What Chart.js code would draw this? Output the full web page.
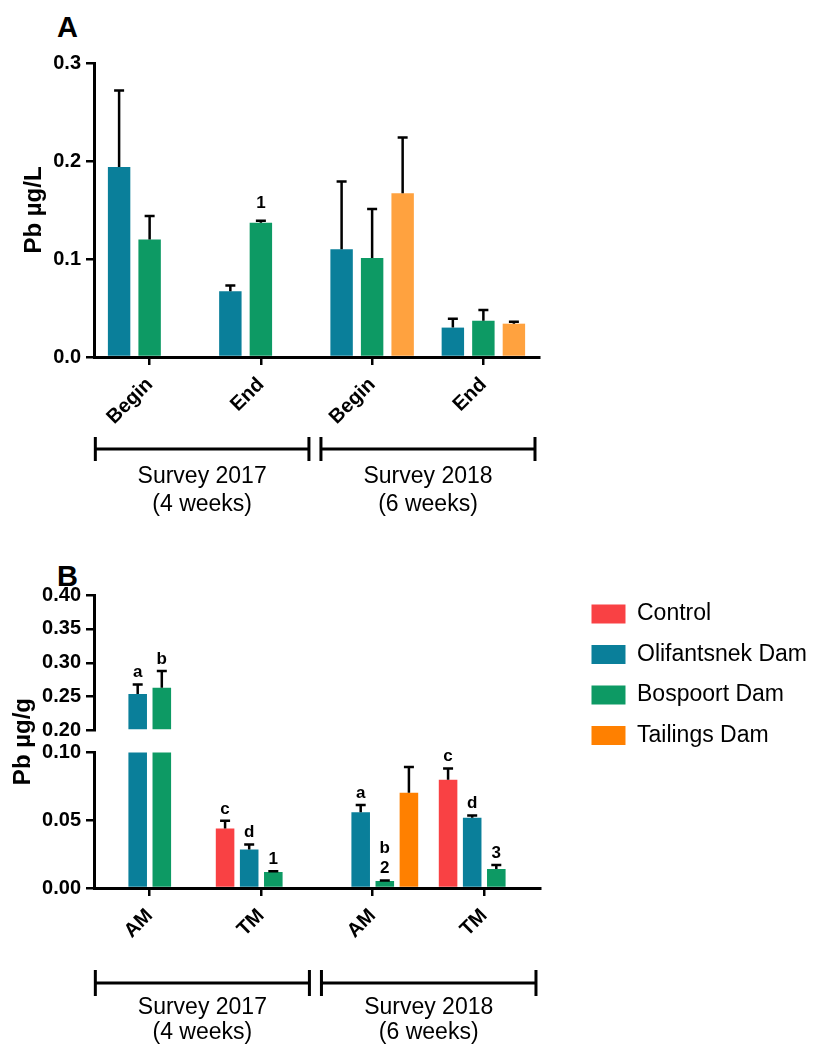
<!DOCTYPE html>
<html>
<head>
<meta charset="utf-8">
<script src="https://cdn.jsdelivr.net/npm/chart.js@4.4.1/dist/chart.umd.min.js"></script>
<style>
  body { margin: 0; background: #fff; width: 818px; height: 1050px; position: relative; overflow: hidden; }
  canvas { position: absolute; left: 0; }
  #chartA { top: 0; }
  #chartB { top: 578px; }
  .panel-label { position: absolute; left: 57px; font: bold 29px "Liberation Sans", Arial, sans-serif; line-height: 29px; }
</style>
</head>
<body>
<div class="panel-label" style="top:13px">A</div>
<div class="panel-label" style="top:562px">B</div>
<canvas id="chartA" width="818" height="540"></canvas>
<canvas id="chartB" width="818" height="472"></canvas>
<script>
// Panel A - water (Pb µg/L)
const categoriesA = ['Begin', 'End', 'Begin', 'End'];
const olifA = [0.194, 0.067, 0.110, 0.030];
const olifAErr = [0.078, 0.006, 0.069, 0.009];
const bosA = [0.120, 0.137, 0.101, 0.037];
const bosAErr = [0.024, 0.002, 0.050, 0.011];
const bosAMarks = [null, '1', null, null];
const tailA = [null, null, 0.167, 0.034];
const tailAErr = [null, null, 0.057, 0.002];
const ticksA = [0, 0.1, 0.2, 0.3];

// Panel B - tissue (Pb µg/g)
const categoriesB = ['AM', 'TM', 'AM', 'TM'];
const ctrlB = [null, 0.044, null, 0.080];
const ctrlBErr = [null, 0.0057, null, 0.0083];
const ctrlBMarks = [null, 'c', null, 'c'];
const olifB = [0.254, 0.0285, 0.056, 0.0518];
const olifBErr = [0.014, 0.0037, 0.0052, 0.0018];
const olifBMarks = ['a', 'd', 'a', 'd'];
const bosB = [0.263, 0.0118, 0.0052, 0.014];
const bosBErr = [0.025, 0.0005, 0.0004, 0.003];
const bosBMarks = ['b', '1', 'b\n2', '3'];
const tailB = [null, null, 0.0703, null];
const tailBErr = [null, null, 0.0191, null];
const tailBMarks = [null, null, null, null];
const ticksBLow = [0, 0.05, 0.10];
const ticksBHigh = [0.20, 0.25, 0.30, 0.35, 0.40];

const surveys = [['Survey 2017', '(4 weeks)'], ['Survey 2018', '(6 weeks)']];

const BREAK_TOP = 0.2;
const FONT = '"Liberation Sans", Arial, sans-serif';
const COLORS = {
  control: '#F94144',
  olif: '#0A7F9A',
  bos: '#0D9A64',
  tailA: '#FFA23F',
  tailB: '#FF8000'
};

Chart.defaults.font.family = FONT;
Chart.defaults.color = '#000';

// error bars (upper only) and significance letters
const errorBars = {
  id: 'errorBars',
  afterDatasetsDraw(chart, args, opts) {
    const ctx = chart.ctx;
    chart.data.datasets.forEach((ds, di) => {
      if (!ds.errors) return;
      const meta = chart.getDatasetMeta(di);
      const yScale = chart.scales[meta.yAxisID];
      ds.data.forEach((v, i) => {
        if (v == null || v > yScale.max || ds.errors[i] == null) return;
        const bar = meta.data[i];
        const base = yScale.getPixelForValue(v);
        const top = yScale.getPixelForValue(v + ds.errors[i]);
        ctx.save();
        ctx.strokeStyle = '#000';
        ctx.lineWidth = 2.5;
        ctx.beginPath();
        ctx.moveTo(bar.x, base);
        ctx.lineTo(bar.x, top);
        ctx.moveTo(bar.x - 5, top);
        ctx.lineTo(bar.x + 5, top);
        ctx.stroke();
        if (ds.marks && ds.marks[i]) {
          ctx.fillStyle = '#000';
          ctx.font = 'bold 17px ' + FONT;
          ctx.textAlign = 'center';
          ctx.textBaseline = 'alphabetic';
          ds.marks[i].split('\n').reverse().forEach((t, k) => {
            ctx.fillText(t, bar.x, top - opts.markGap - k * 20);
          });
        }
        ctx.restore();
      });
    });
  }
};

// the "Survey" brackets under the x axis
const surveyBrackets = {
  id: 'surveyBrackets',
  afterDraw(chart, args, opts) {
    const ctx = chart.ctx;
    const ca = chart.chartArea;
    const w = ca.right - ca.left;
    const y = ca.bottom + opts.lineOffset;
    const spans = [[0.003, 0.483], [0.51, 0.991]];
    ctx.save();
    ctx.strokeStyle = '#000';
    ctx.lineWidth = 3;
    ctx.fillStyle = '#000';
    ctx.font = '23px ' + FONT;
    ctx.textAlign = 'center';
    ctx.textBaseline = 'middle';
    spans.forEach(([a, b], k) => {
      const x1 = ca.left + a * w;
      const x2 = ca.left + b * w;
      ctx.beginPath();
      ctx.moveTo(x1, y);
      ctx.lineTo(x2, y);
      ctx.moveTo(x1, y - opts.tick);
      ctx.lineTo(x1, y + opts.tick);
      ctx.moveTo(x2, y - opts.tick);
      ctx.lineTo(x2, y + opts.tick);
      ctx.stroke();
      surveys[k].forEach((t, j) => {
        ctx.fillText(t, (x1 + x2) / 2, ca.bottom + opts.textOffsets[j]);
      });
    });
    ctx.restore();
  }
};

function valueAxis(tickValues, digits, extra) {
  return Object.assign({
    type: 'linear',
    position: 'left',
    min: tickValues[0],
    max: tickValues[tickValues.length - 1],
    afterBuildTicks: s => { s.ticks = tickValues.map(v => ({ value: v })); },
    afterFit: s => { s.width = 94; },
    grid: { drawOnChartArea: false, drawTicks: true, tickLength: 8, color: '#000', lineWidth: 2.5 },
    border: { display: true, color: '#000', width: 3 },
    ticks: {
      autoSkip: false, padding: 5, color: '#000', font: { size: 20, weight: 'bold' },
      callback: v => v.toFixed(digits)
    }
  }, extra);
}

function categoryAxis(height) {
  return {
    afterFit: s => { s.height = height; },
    grid: { offset: false, drawOnChartArea: false, tickLength: 8, color: '#000', lineWidth: 2.5 },
    border: { color: '#000', width: 3 },
    ticks: {
      autoSkip: false, minRotation: 45, maxRotation: 45, padding: 8, labelOffset: 0,
      color: '#000', font: { size: 20, weight: 'bold' }
    }
  };
}

const axisTitle = (text, pad) => ({
  display: true, text: text, color: '#000',
  font: { size: 24, weight: 'bold' }, padding: { top: pad, bottom: 0 }
});

new Chart(document.getElementById('chartA'), {
  type: 'bar',
  data: {
    labels: categoriesA,
    datasets: [
      { label: 'Olifantsnek Dam', data: olifA, errors: olifAErr, backgroundColor: COLORS.olif },
      { label: 'Bospoort Dam', data: bosA, errors: bosAErr, marks: bosAMarks, backgroundColor: COLORS.bos },
      { label: 'Tailings Dam', data: tailA, errors: tailAErr, backgroundColor: COLORS.tailA }
    ]
  },
  options: {
    responsive: false,
    animation: false,
    layout: { padding: { top: 63, right: 279, left: 0, bottom: 0 } },
    datasets: { bar: { categoryPercentage: 0.823, barPercentage: 0.735, borderWidth: 0 } },
    plugins: {
      legend: { display: false },
      tooltip: { enabled: false },
      errorBars: { markGap: 12.5 },
      surveyBrackets: { lineOffset: 92, tick: 12, textOffsets: [120, 148] }
    },
    scales: {
      x: categoryAxis(183),
      y: valueAxis(ticksA, 1, { title: axisTitle('Pb µg/L', 19.6) })
    }
  },
  plugins: [errorBars, surveyBrackets]
});

const seriesB = [
  ['Control', ctrlB, ctrlBErr, ctrlBMarks, COLORS.control],
  ['Olifantsnek Dam', olifB, olifBErr, olifBMarks, COLORS.olif],
  ['Bospoort Dam', bosB, bosBErr, bosBMarks, COLORS.bos],
  ['Tailings Dam', tailB, tailBErr, tailBMarks, COLORS.tailB]
];
const datasetsB = seriesB.map(([label, data, errors, marks, color]) => ({
  label, data, errors, marks, backgroundColor: color, stack: label, yAxisID: 'y'
}));
// the part of the tall bars above the axis break
seriesB.forEach(([label, data, errors, marks, color]) => {
  if (!data.some(v => v != null && v > BREAK_TOP)) return;
  datasetsB.push({
    label, errors, marks, backgroundColor: color, stack: label, yAxisID: 'yTop',
    base: BREAK_TOP, upper: true,
    data: data.map(v => (v != null && v > BREAK_TOP ? v : null))
  });
});

new Chart(document.getElementById('chartB'), {
  type: 'bar',
  data: { labels: categoriesB, datasets: datasetsB },
  options: {
    responsive: false,
    animation: false,
    layout: { padding: { top: 7, right: 1, left: 0, bottom: 0 } },
    datasets: { bar: { categoryPercentage: 0.865, barPercentage: 0.77, borderWidth: 0 } },
    plugins: {
      legend: {
        position: 'right',
        align: 'start',
        maxWidth: 260,
        labels: {
          boxWidth: 34, boxHeight: 19, padding: 17.5, color: '#000', font: { size: 23 },
          filter: (item, data) => !data.datasets[item.datasetIndex].upper
        }
      },
      tooltip: { enabled: false },
      errorBars: { markGap: 7 },
      surveyBrackets: { lineOffset: 95, tick: 13, textOffsets: [120, 145] }
    },
    scales: {
      x: categoryAxis(162),
      yTop: valueAxis(ticksBHigh, 2, { stack: 'pb', stackWeight: 135.7, weight: 2 }),
      yGap: {
        type: 'linear', position: 'left', stack: 'pb', stackWeight: 22, weight: 1,
        afterFit: s => { s.width = 94; },
        grid: { display: false }, border: { display: false }, ticks: { display: false },
        title: axisTitle('Pb µg/g', 8.7)
      },
      y: valueAxis(ticksBLow, 2, { stack: 'pb', stackWeight: 135.6, weight: 0 }),
      yPad: { type: 'linear', position: 'right', display: false, afterFit: s => { s.width = 34; } }
    }
  },
  plugins: [errorBars, surveyBrackets]
});
</script>
</body>
</html>
